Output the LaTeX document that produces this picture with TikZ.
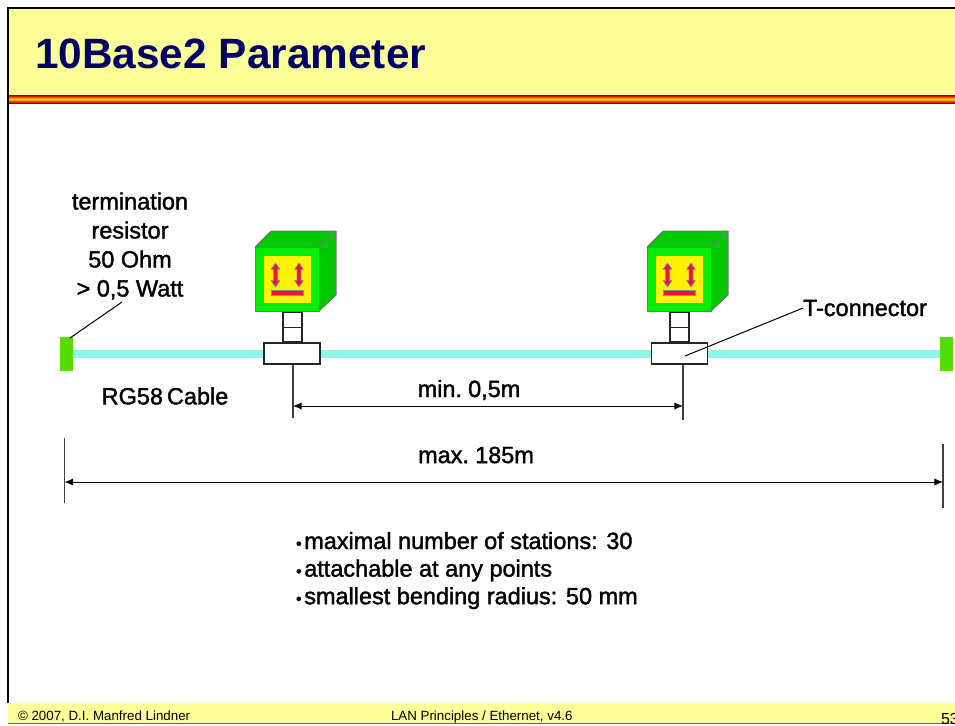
\documentclass[tikz,border=0pt]{standalone}
\usepackage{fontspec}
\setmainfont{Liberation Sans}
\newfontfamily\bodyfont[FakeBold=1.6]{Liberation Sans}
\usetikzlibrary{arrows.meta}
\definecolor{hdr}{HTML}{FFFF99}
\definecolor{navy}{HTML}{000066}
\definecolor{cable}{HTML}{90F6E8}
\definecolor{term}{HTML}{55DD00}
\definecolor{front}{HTML}{00EE00}
\definecolor{side}{HTML}{00C800}
\definecolor{redm}{HTML}{F01038}
\definecolor{s1}{HTML}{8B0000}
\definecolor{s2}{HTML}{D02000}
\definecolor{s3}{HTML}{F05000}
\definecolor{s4}{HTML}{FF9000}
\definecolor{s5}{HTML}{FFD800}
\tikzset{
  every node/.style={inner sep=0pt,outer sep=0pt},
  x=0.75pt,y=-0.75pt,
  lbl/.style={font=\bodyfont\fontsize{17.6pt}{21.75pt}\selectfont,text=black,align=center},
  bullets/.style={font=\bodyfont\fontsize{17.6pt}{20.7pt}\selectfont,text=black,align=left},
  foot/.style={font=\fontsize{10pt}{12pt}\selectfont,text=black,anchor=base west},
  cubeline/.style={draw=black!55,line width=0.75pt,line join=round},
  lbox/.style={draw=black!85,line width=1pt,fill=white,minimum width=14.25pt,minimum height=22pt},
  tbox/.style={draw=black!85,line width=1pt,fill=white,minimum width=42pt,minimum height=15.75pt},
  termbox/.style={fill=term,minimum width=9.75pt,minimum height=25.5pt},
  thin leader/.style={draw=black,line width=0.75pt},
  dim/.style={draw=black,line width=0.75pt,{Latex[length=6.5pt,width=5.5pt]}-{Latex[length=6.5pt,width=5.5pt]}},
  stemline/.style={draw=black!75,line width=1pt},
  edge line/.style={draw=black,line width=1.5pt},
}
\newcommand{\tightwords}{\spaceskip=3pt\relax}
\newcommand{\dblarrow}[1]{%
  \path[fill=redm,draw=black!45,line width=0.5pt,line join=round]
    (#1,263) -- (#1+4.4,269.5) -- (#1+2,269.5) -- (#1+2,280.5) -- (#1+4.4,280.5) -- (#1,287)
    -- (#1-4.4,280.5) -- (#1-2,280.5) -- (#1-2,269.5) -- (#1-4.4,269.5) -- cycle;}
\newcommand{\stationcube}[1]{%
  \begin{scope}[xshift=#1*0.75pt]
    \path[cubeline,fill=side] (255,247) -- (271,231) -- (336,231) -- (336,295) -- (319,311) -- cycle;
    \path[cubeline] (319,247) -- (336,231);
    \path[cubeline,fill=front] (255,247) rectangle (319,311);
    \path[fill=yellow,draw=black!45,line width=0.75pt] (263,255) rectangle (311,303);
    \dblarrow{275.5}
    \dblarrow{299}
    \path[fill=redm,draw=black!45,line width=0.5pt] (271,290) rectangle (303,295.5);
  \end{scope}}
\newcommand{\smallbullet}{{\fontsize{12pt}{12pt}\selectfont\textbullet}\hspace{2pt}}
\begin{document}
\begin{tikzpicture}
\clip (0,0) rectangle (955,725);
\useasboundingbox (0,0) rectangle (955,725);
\fill[white] (0,0) rectangle (955,725);
% header
\fill[hdr] (9,9) rectangle (955,95);
\fill[s1] (7,95) rectangle (955,96.2);
\fill[s2] (7,96) rectangle (955,97.2);
\fill[s3] (7,97) rectangle (955,98.2);
\fill[s4] (7,98) rectangle (955,99.2);
\fill[s5] (7,99) rectangle (955,100.2);
\fill[s4] (7,100) rectangle (955,101.2);
\fill[s3] (7,101) rectangle (955,102.2);
\fill[s2] (7,102) rectangle (955,103.2);
\fill[s1] (7,103) rectangle (955,104);
% footer
\fill[hdr] (8,703) rectangle (955,722.5);
\draw[draw=black!60,line width=0.75pt] (8,723) -- (955,723);
% frame
\draw[edge line] (8,703) -- (8,8) -- (955,8);
\node[anchor=base west,font=\bfseries\fontsize{31.8pt}{38pt}\selectfont,text=navy] (title) at (35,68) {10Base2 Parameter};
% cable
\fill[cable] (70,350) rectangle (945,358);
\node[termbox] (termL) at (66.5,354) {};
\node[termbox] (termR) at (946.5,354) {};
% stations
\stationcube{0}
\stationcube{392}
\node[lbox] (boxA) at (292.5,327) {};
\draw[draw=black!85,line width=.75pt] (boxA.west) -- (boxA.east);
\node[tbox] (tA) at (292,353.5) {};
\node[lbox] (boxB) at (679.5,327) {};
\draw[draw=black!85,line width=.75pt] (boxB.west) -- (boxB.east);
\node[tbox] (tB) at (679.5,353.5) {};
% stems and dimensions
\coordinate (stemA) at (293,418);
\coordinate (stemB) at (683,420);
\coordinate (stemAtop) at (293,364.5);
\coordinate (stemBtop) at (683,364.5);
\draw[stemline] (stemAtop) -- (stemA);
\draw[stemline] (stemBtop) -- (stemB);
\coordinate (minL) at (293,406);
\coordinate (minR) at (683,406);
\draw[dim] (minL) -- (minR);
\coordinate (maxLt) at (64.5,438);
\coordinate (maxLb) at (64.5,503);
\coordinate (maxRt) at (943,444);
\coordinate (maxRb) at (943,508);
\draw[stemline] (maxLt) -- (maxLb);
\draw[stemline] (maxRt) -- (maxRb);
\coordinate (maxL) at (64.5,482);
\coordinate (maxR) at (943,482);
\draw[dim] (maxL) -- (maxR);
% labels
\node[lbl] (res) at (130,246) {\tightwords termination\\resistor\\50 Ohm\\> 0,5 Watt};
\coordinate (resEnd) at (122,302);
\coordinate (resStart) at (70,338);
\draw[thin leader] (resStart) -- (resEnd);
\node[lbl,anchor=west] (tconn) at (803,308) {T-connector};
\coordinate (tIn) at (685,356);
\draw[thin leader] (tIn) -- (tconn.west);
\node[lbl] (rg) at (165,396) {\tightwords RG58 Cable};
\node[lbl] (minl) at (469,390) {\tightwords min. 0,5m};
\node[lbl] (maxl) at (476,455) {\tightwords max. 185m};
\node[bullets,anchor=north west] (bul) at (296,532)
  {\smallbullet maximal number of stations: 30\\\smallbullet attachable at any points\\\smallbullet smallest bending radius: 50 mm};
% footer text
\node[foot] (f1) at (18,720) {© 2007, D.I. Manfred Lindner};
\node[foot] (f2) at (391,720) {LAN Principles / Ethernet, v4.6};
\node[foot,font=\fontsize{12pt}{14pt}\selectfont] (f3) at (941,724) {53};
\end{tikzpicture}
\end{document}
